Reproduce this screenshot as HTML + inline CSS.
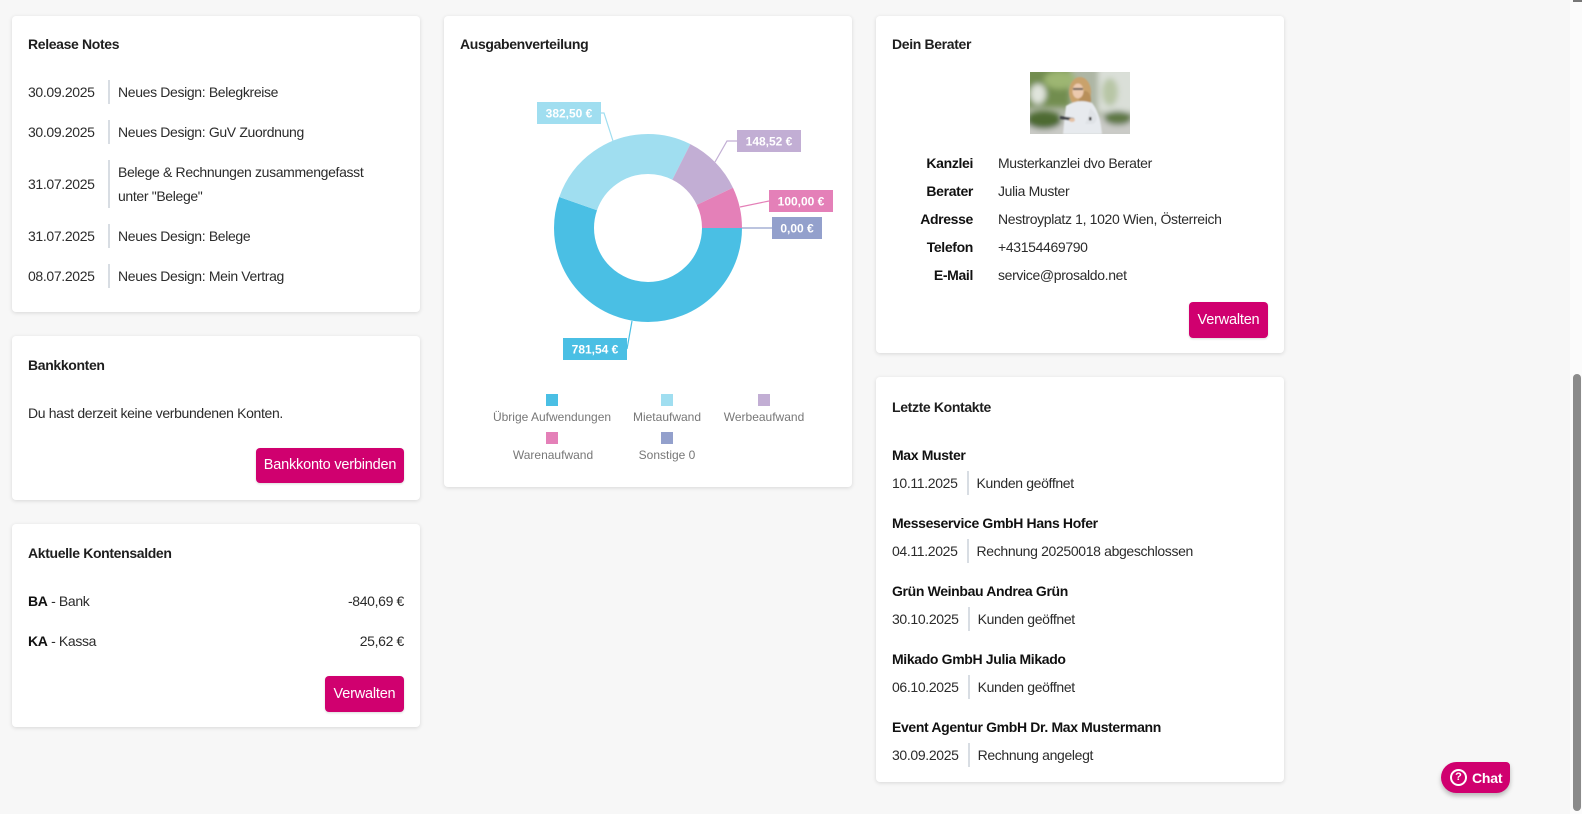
<!DOCTYPE html>
<html>
<head>
<meta charset="utf-8">
<style>
  html,body{margin:0;padding:0;}
  body{width:1582px;height:814px;overflow:hidden;position:relative;background:#f7f7f7;
       font-family:"Liberation Sans",Arial,sans-serif;color:#2b2b2b;font-size:14px;letter-spacing:-0.35px;}
  .card{position:absolute;background:#fff;border-radius:4px;box-shadow:0 1px 4px rgba(0,0,0,0.13);}
  .t{position:absolute;white-space:nowrap;line-height:20px;height:20px;}
  .h{font-weight:bold;color:#1e1e1e;}
  .b{font-weight:bold;color:#111;}
  .sep{position:absolute;width:2px;background:#d8dde3;}
  .btn{position:absolute;background:#d0006f;color:#fff;border-radius:4px;text-align:center;
       box-shadow:0 1px 2px rgba(0,0,0,0.15);letter-spacing:-0.2px;font-size:14.5px;}
  .row{position:absolute;left:892px;display:flex;align-items:center;height:24px;white-space:nowrap;}
  .row .s{border-left:2px solid #d8dde3;margin-left:9px;padding-left:8px;height:24px;line-height:24px;}
</style>
</head>
<body>

<!-- Release Notes -->
<div class="card" style="left:12px;top:16px;width:408px;height:296px;"></div>
<div class="t h" style="left:28px;top:34px;">Release Notes</div>

<div class="t" style="left:28px;top:82px;">30.09.2025</div>
<div class="sep" style="left:108px;top:80px;height:24px;"></div>
<div class="t" style="left:118px;top:82px;">Neues Design: Belegkreise</div>

<div class="t" style="left:28px;top:122px;">30.09.2025</div>
<div class="sep" style="left:108px;top:120px;height:24px;"></div>
<div class="t" style="left:118px;top:122px;">Neues Design: GuV Zuordnung</div>

<div class="t" style="left:28px;top:174px;">31.07.2025</div>
<div class="sep" style="left:108px;top:160px;height:48px;"></div>
<div class="t" style="left:118px;top:162px;">Belege &amp; Rechnungen zusammengefasst</div>
<div class="t" style="left:118px;top:186px;">unter "Belege"</div>

<div class="t" style="left:28px;top:226px;">31.07.2025</div>
<div class="sep" style="left:108px;top:224px;height:24px;"></div>
<div class="t" style="left:118px;top:226px;">Neues Design: Belege</div>

<div class="t" style="left:28px;top:266px;">08.07.2025</div>
<div class="sep" style="left:108px;top:264px;height:24px;"></div>
<div class="t" style="left:118px;top:266px;">Neues Design: Mein Vertrag</div>

<!-- Bankkonten -->
<div class="card" style="left:12px;top:336px;width:408px;height:164px;"></div>
<div class="t h" style="left:28px;top:355px;">Bankkonten</div>
<div class="t" style="left:28px;top:403px;">Du hast derzeit keine verbundenen Konten.</div>
<div class="btn" style="left:256px;top:448px;width:148px;height:35px;line-height:35px;">Bankkonto verbinden</div>

<!-- Aktuelle Kontensalden -->
<div class="card" style="left:12px;top:524px;width:408px;height:203px;"></div>
<div class="t h" style="left:28px;top:543px;">Aktuelle Kontensalden</div>
<div class="t" style="left:28px;top:591px;"><span class="b">BA</span> - Bank</div>
<div class="t" style="left:250px;width:154px;text-align:right;top:591px;">-840,69 €</div>
<div class="t" style="left:28px;top:631px;"><span class="b">KA</span> - Kassa</div>
<div class="t" style="left:250px;width:154px;text-align:right;top:631px;">25,62 €</div>
<div class="btn" style="left:325px;top:676px;width:79px;height:36px;line-height:36px;">Verwalten</div>

<!-- Ausgabenverteilung -->
<div class="card" style="left:444px;top:16px;width:408px;height:471px;"></div>
<div class="t h" style="left:460px;top:34px;">Ausgabenverteilung</div>

<!-- Dein Berater -->
<div class="card" style="left:876px;top:16px;width:408px;height:337px;"></div>
<div class="t h" style="left:892px;top:34px;">Dein Berater</div>
<svg style="position:absolute;left:1030px;top:72px;" width="100" height="62" viewBox="0 0 100 62">
  <defs>
    <filter id="bl" x="-20%" y="-20%" width="140%" height="140%"><feGaussianBlur stdDeviation="3"/></filter>
    <filter id="bl2"><feGaussianBlur stdDeviation="0.7"/></filter>
    <clipPath id="cp"><rect width="100" height="62"/></clipPath>
  </defs>
  <g clip-path="url(#cp)">
    <rect width="100" height="62" fill="#aeb6a4"/>
    <g filter="url(#bl)">
      <rect x="-5" y="-5" width="45" height="40" fill="#728d50"/>
      <ellipse cx="30" cy="8" rx="16" ry="9" fill="#9db672"/>
      <rect x="68" y="-5" width="40" height="45" fill="#dadfd8"/>
      <ellipse cx="80" cy="20" rx="8" ry="14" fill="#b8c6a6"/>
      <rect x="-5" y="44" width="110" height="22" fill="#cacbc7"/>
      <ellipse cx="14" cy="48" rx="18" ry="9" fill="#4d6a33"/>
      <ellipse cx="88" cy="46" rx="14" ry="7" fill="#5e7845"/>
      <ellipse cx="8" cy="22" rx="8" ry="10" fill="#e0e4dc"/>
    </g>
    <g filter="url(#bl2)">
      <ellipse cx="50" cy="20" rx="11" ry="15" fill="#c9a26c"/>
      <ellipse cx="55" cy="28" rx="6" ry="9" fill="#b88f5a"/>
      <path d="M33 62 L36 34 Q48 26 62 31 Q70 40 72 62 Z" fill="#e7eaee"/>
      <ellipse cx="48" cy="19" rx="5.5" ry="7.5" fill="#ecc9ae"/>
      <rect x="43" y="16" width="10" height="2" fill="#333" opacity="0.75"/>
      <path d="M60 36 Q72 46 63 52 L55 52 L58 45 Z" fill="#dfe2e6"/>
      <rect x="30" y="45" width="14" height="3" fill="#3c3f44" transform="rotate(8 37 46)"/>
      <ellipse cx="42" cy="48" rx="3" ry="2" fill="#e5c2a5"/>
      <rect x="59" y="45" width="2.5" height="3.5" fill="#333"/>
    </g>
  </g>
</svg>
<div class="t b" style="left:880px;width:93px;text-align:right;top:153px;">Kanzlei</div>
<div class="t" style="left:998px;top:153px;">Musterkanzlei dvo Berater</div>
<div class="t b" style="left:880px;width:93px;text-align:right;top:181px;">Berater</div>
<div class="t" style="left:998px;top:181px;">Julia Muster</div>
<div class="t b" style="left:880px;width:93px;text-align:right;top:209px;">Adresse</div>
<div class="t" style="left:998px;top:209px;">Nestroyplatz 1, 1020 Wien, Österreich</div>
<div class="t b" style="left:880px;width:93px;text-align:right;top:237px;">Telefon</div>
<div class="t" style="left:998px;top:237px;">+43154469790</div>
<div class="t b" style="left:880px;width:93px;text-align:right;top:265px;">E-Mail</div>
<div class="t" style="left:998px;top:265px;">service@prosaldo.net</div>
<div class="btn" style="left:1189px;top:302px;width:79px;height:36px;line-height:36px;">Verwalten</div>

<!-- Letzte Kontakte -->
<div class="card" style="left:876px;top:377px;width:408px;height:405px;"></div>
<div class="t h" style="left:892px;top:397px;">Letzte Kontakte</div>

<div class="t b" style="left:892px;top:445px;">Max Muster</div>
<div class="row" style="top:471px;"><span>10.11.2025</span><span class="s">Kunden geöffnet</span></div>

<div class="t b" style="left:892px;top:513px;">Messeservice GmbH Hans Hofer</div>
<div class="row" style="top:539px;"><span>04.11.2025</span><span class="s">Rechnung 20250018 abgeschlossen</span></div>

<div class="t b" style="left:892px;top:581px;">Grün Weinbau Andrea Grün</div>
<div class="row" style="top:607px;"><span>30.10.2025</span><span class="s">Kunden geöffnet</span></div>

<div class="t b" style="left:892px;top:649px;">Mikado GmbH Julia Mikado</div>
<div class="row" style="top:675px;"><span>06.10.2025</span><span class="s">Kunden geöffnet</span></div>

<div class="t b" style="left:892px;top:717px;">Event Agentur GmbH Dr. Max Mustermann</div>
<div class="row" style="top:743px;"><span>30.09.2025</span><span class="s">Rechnung angelegt</span></div>

<!-- Chart overlay -->
<svg style="position:absolute;left:0;top:0;" width="1582" height="814" viewBox="0 0 1582 814">
  <g fill="none" stroke-width="40">
    <circle cx="648" cy="228" r="74" stroke="#4abfe4" stroke-dasharray="257.25 207.71" stroke-dashoffset="0"/>
    <circle cx="648" cy="228" r="74" stroke="#a0def0" stroke-dasharray="125.90 339.06" stroke-dashoffset="-257.25"/>
    <circle cx="648" cy="228" r="74" stroke="#c2aed4" stroke-dasharray="48.89 416.07" stroke-dashoffset="-383.15"/>
    <circle cx="648" cy="228" r="74" stroke="#e480b8" stroke-dasharray="32.92 432.04" stroke-dashoffset="-432.04"/>
  </g>
  <g fill="none" stroke-width="1.2">
    <path d="M601 113 H604 L613 141" stroke="#a0def0"/>
    <path d="M737 141 H727 L715 162" stroke="#c2aed4"/>
    <path d="M769 201 L740 207" stroke="#e480b8"/>
    <path d="M742 228 H772" stroke="#93a0cc"/>
    <path d="M632 321 L627 349" stroke="#4abfe4"/>
  </g>
  <g font-family="Liberation Sans, Arial, sans-serif" font-size="12" font-weight="bold" fill="#fff" text-anchor="middle" letter-spacing="0">
    <rect x="537" y="102" width="64" height="22" fill="#a0def0"/>
    <text x="569" y="117.5">382,50 €</text>
    <rect x="737" y="130" width="64" height="22" fill="#c2aed4"/>
    <text x="769" y="145.5">148,52 €</text>
    <rect x="769" y="190" width="64" height="22" fill="#e480b8"/>
    <text x="801" y="205.5">100,00 €</text>
    <rect x="772" y="217" width="50" height="22" fill="#93a0cc"/>
    <text x="797" y="232.5">0,00 €</text>
    <rect x="563" y="338" width="64" height="22" fill="#4abfe4"/>
    <text x="595" y="353.5">781,54 €</text>
  </g>
  <g>
    <rect x="546" y="394" width="12" height="12" fill="#4abfe4"/>
    <rect x="661" y="394" width="12" height="12" fill="#a0def0"/>
    <rect x="758" y="394" width="12" height="12" fill="#c2aed4"/>
    <rect x="546" y="432" width="12" height="12" fill="#e480b8"/>
    <rect x="661" y="432" width="12" height="12" fill="#93a0cc"/>
  </g>
  <g font-family="Liberation Sans, Arial, sans-serif" font-size="12" fill="#777" text-anchor="middle" letter-spacing="0">
    <text x="552" y="421">Übrige Aufwendungen</text>
    <text x="667" y="421">Mietaufwand</text>
    <text x="764" y="421">Werbeaufwand</text>
    <text x="553" y="459">Warenaufwand</text>
    <text x="667" y="459">Sonstige 0</text>
  </g>
</svg>

<!-- Chat button -->
<div style="position:absolute;left:1441px;top:762px;width:69px;height:31px;background:#d0006f;border-radius:16px 4px 14px 16px;box-shadow:0 3px 5px rgba(0,0,0,0.25);color:#fff;">
  <div style="position:absolute;left:9px;top:7px;width:13px;height:13px;border:2px solid #fff;border-radius:50%;font:bold 11px/13px 'Liberation Sans',Arial,sans-serif;text-align:center;letter-spacing:0;">?</div>
  <div style="position:absolute;left:31px;top:6px;font:bold 14px/20px 'Liberation Sans',Arial,sans-serif;letter-spacing:-0.2px;">Chat</div>
</div>

<!-- Scrollbar -->
<div style="position:absolute;left:1570px;top:0;width:12px;height:814px;background:#fbfbfb;"></div>
<div style="position:absolute;left:1573px;top:0;width:9px;height:2px;background:#777;"></div>
<div style="position:absolute;left:1573px;top:374px;width:8px;height:437px;background:#8b8b8b;border-radius:4px;"></div>

</body>
</html>
